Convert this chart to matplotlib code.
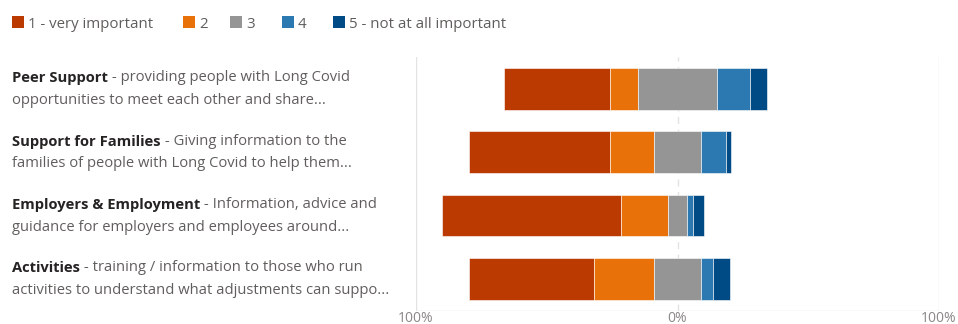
#!/usr/bin/env python3

import numpy
from matplotlib import pyplot
from matplotlib.patches import Rectangle
import matplotlib.transforms as mtransforms


TITLES = ["Peer Support", "Support for Families", "Employers & Employment", "Activities"]
LINE1 = [
	" - providing people with Long Covid",
	" - Giving information to the",
	" - Information, advice and",
	" - training / information to those who run",
]
LINE2 = [
	"opportunities to meet each other and share...",
	"families of people with Long Covid to help them...",
	"guidance for employers and employees around...",
	"activities to understand what adjustments can suppo...",
]
SERIES = ["1 - very important", "2", "3", "4", "5 - not at all important"]
# percent of responses per rating, rows follow TITLES
VALUES = numpy.array([
	[40.3, 10.7, 30.4, 12.6, 6.5],
	[53.6, 16.9, 18.2, 9.6, 1.9],
	[68.4, 18.1, 7.2, 2.3, 4.3],
	[48.0, 22.8, 18.2, 4.5, 6.5],
])
XTICKS = [-100, 0, 100]
XTICK_LABELS = ["100%", "0%", "100%"]

COLORS = ["#BA3A02", "#E9710A", "#959595", "#2B79B0", "#004A85"]
FONT = "Open Sans"
FS = 10.65
DARK = "#252423"
GREY = "#605E5C"


def plot_bars(ax):
	n = len(TITLES)
	y = numpy.arange(n)
	left = -(VALUES[:, 0] + VALUES[:, 1] + VALUES[:, 2] / 2.0)
	for j, color in enumerate(COLORS):
		ax.barh(y, VALUES[:, j], left = left, height = 0.66, color = color,
			edgecolor = "#FFFFFF", linewidth = 0.4, zorder = 3)
		left = left + VALUES[:, j]
	ax.set_xlim(-100, 100)
	ax.set_ylim(n - 0.5, -0.5)
	for sp in ax.spines.values():
		sp.set_visible(False)
	for xv in XTICKS:
		ls = (0, (5, 4)) if xv == 0 else "-"
		ax.axvline(xv, color = "#E3E3E3", linewidth = 1.0, linestyle = ls, zorder = 1)
	ax.axhline(n - 0.5, color = "#E3E3E3", linewidth = 1.0, zorder = 1)
	ax.set_yticks([])
	ax.set_xticks(XTICKS)
	ax.set_xticklabels(XTICK_LABELS, fontfamily = FONT, fontsize = 10, color = "#8A8886")
	ax.tick_params(axis = "x", length = 0, pad = 0.1)
	return


def plot_labels(fig, ax):
	trans = mtransforms.blended_transform_factory(fig.transFigure, ax.transData)
	for i in range(len(TITLES)):
		t1 = mtransforms.offset_copy(trans, fig = fig, x = 0, y = 7.6, units = "points")
		t2 = mtransforms.offset_copy(trans, fig = fig, x = 0, y = -8.4, units = "points")
		bold = fig.text(12 / 958, i, TITLES[i], transform = t1, fontfamily = FONT,
			fontsize = FS, fontweight = "bold", color = DARK, va = "center", ha = "left")
		ax.annotate(LINE1[i], xy = (1, 0), xycoords = bold, va = "bottom", ha = "left",
			fontfamily = FONT, fontsize = FS, color = GREY, annotation_clip = False)
		fig.text(12 / 958, i, LINE2[i], transform = t2, fontfamily = FONT,
			fontsize = FS, color = GREY, va = "center", ha = "left")
	return


def plot_legend(fig):
	sq_x = [12, 183, 230, 282, 333]
	for x, color, name in zip(sq_x, COLORS, SERIES):
		fig.patches.append(Rectangle((x / 958, 1 - 28 / 324), 12 / 958, 12 / 324,
			transform = fig.transFigure, facecolor = color, edgecolor = "none"))
		fig.text((x + 16) / 958, 1 - 24 / 324, name, fontfamily = FONT, fontsize = 10.8,
			color = GREY, va = "center", ha = "left")
	return


if __name__ == "__main__":
	fig = pyplot.figure(figsize = (9.58, 3.24), dpi = 100)
	ax = fig.add_axes([416 / 958, 1 - 310.7 / 324, (939 - 416) / 958, (310.7 - 57) / 324])
	plot_bars(ax)
	plot_labels(fig, ax)
	plot_legend(fig)
	fig.savefig("out.png", dpi = 100)
	pyplot.close()
